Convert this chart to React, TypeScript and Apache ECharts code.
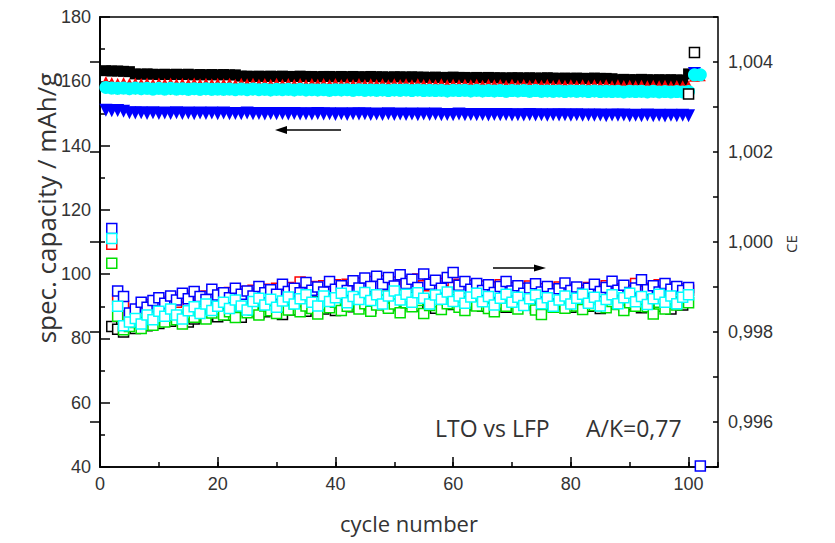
import React, { useEffect, useRef } from 'react';
import * as echarts from 'echarts';

// ---- Capacity (left axis, mAh/g), cycles 1..102 ----
const capBlack = [
  163.3, 163.2, 163.2, 163.1, 163.0, 162.3, 162.2, 162.3, 162.2, 162.1,
  162.2, 162.1, 162.2, 162.1, 162.2, 162.0, 162.1, 162.0, 162.1, 162.0,
  162.1, 162.0, 162.0, 161.6, 161.6, 161.5, 161.6, 161.5, 161.6, 161.5,
  161.6, 161.5, 161.5, 161.6, 161.5, 161.5, 161.4, 161.5, 161.5, 161.4,
  161.5, 161.4, 161.5, 161.4, 161.4, 161.5, 161.4, 161.4, 161.3, 161.4,
  161.4, 161.3, 161.4, 161.3, 161.3, 161.2, 161.3, 161.2, 161.2, 161.3,
  161.2, 161.2, 161.1, 161.2, 161.1, 161.2, 161.1, 161.1, 161.0, 161.1,
  161.1, 161.0, 161.1, 161.0, 161.0, 161.1, 161.0, 160.9, 161.0, 160.9,
  161.0, 160.9, 160.9, 161.0, 160.9, 160.9, 160.8, 160.5, 160.6, 160.5,
  160.5, 160.6, 160.5, 160.4, 160.5, 160.4, 160.5, 160.4, 160.4, 162.3,
];
const capRed = [
  159.9, 159.6, 159.4, 159.6, 159.3, 159.5, 159.3, 159.5, 159.2, 159.5,
  159.3, 159.5, 159.2, 159.4, 159.2, 159.5, 159.2, 159.4, 159.2, 159.4,
  159.2, 159.4, 159.1, 159.4, 159.2, 159.4, 159.1, 159.3, 159.1, 159.4,
  159.1, 159.3, 159.1, 159.3, 159.0, 159.3, 159.1, 159.3, 159.0, 159.3,
  159.0, 159.2, 159.0, 159.3, 159.0, 159.2, 159.0, 159.2, 158.9, 159.2,
  159.0, 159.2, 158.9, 159.2, 159.0, 159.1, 158.9, 159.2, 158.9, 159.1,
  158.9, 159.1, 158.9, 159.1, 158.8, 159.1, 158.9, 159.0, 158.8, 159.1,
  158.8, 159.0, 158.8, 159.0, 158.8, 159.0, 158.7, 159.0, 158.8, 158.9,
  158.7, 158.9, 158.7, 158.9, 158.7, 158.9, 158.6, 158.9, 158.7, 158.8,
  158.6, 158.8, 158.6, 158.8, 158.6, 158.8, 158.5, 158.7, 158.6, 158.5,
  161.6, 161.7,
];
const capGreen = [
  157.8, 157.6, 157.5, 157.6, 157.4, 157.5, 157.4, 157.5, 157.3, 157.5,
  157.3, 157.4, 157.3, 157.4, 157.2, 157.4, 157.2, 157.3, 157.2, 157.3,
  157.2, 157.3, 157.1, 157.3, 157.1, 157.2, 157.1, 157.2, 157.0, 157.2,
  157.1, 157.2, 157.0, 157.2, 157.0, 157.1, 157.0, 157.1, 156.9, 157.1,
  157.0, 157.1, 156.9, 157.1, 156.9, 157.0, 156.9, 157.0, 156.8, 157.0,
  156.9, 157.0, 156.8, 157.0, 156.8, 156.9, 156.8, 156.9, 156.7, 156.9,
  156.8, 156.9, 156.7, 156.9, 156.7, 156.8, 156.7, 156.8, 156.6, 156.8,
  156.7, 156.8, 156.6, 156.8, 156.6, 156.7, 156.6, 156.7, 156.5, 156.7,
  156.6, 156.7, 156.5, 156.7, 156.5, 156.6, 156.5, 156.6, 156.4, 156.6,
  156.5, 156.6, 156.4, 156.6, 156.4, 156.5, 156.4, 156.5, 156.4, 156.5,
  162.1, 162.2,
];
const capCyan = [
  158.1, 157.9, 157.8, 157.9, 157.7, 157.9, 157.7, 157.8, 157.6, 157.8,
  157.6, 157.8, 157.6, 157.7, 157.5, 157.7, 157.5, 157.7, 157.5, 157.6,
  157.5, 157.6, 157.4, 157.6, 157.4, 157.6, 157.4, 157.5, 157.3, 157.5,
  157.4, 157.5, 157.3, 157.5, 157.3, 157.4, 157.3, 157.4, 157.2, 157.4,
  157.3, 157.4, 157.2, 157.4, 157.2, 157.3, 157.2, 157.3, 157.1, 157.3,
  157.2, 157.3, 157.1, 157.3, 157.1, 157.2, 157.1, 157.2, 157.0, 157.2,
  157.1, 157.2, 157.0, 157.2, 157.0, 157.1, 157.0, 157.1, 156.9, 157.1,
  157.0, 157.1, 156.9, 157.1, 156.9, 157.0, 156.9, 157.0, 156.8, 157.0,
  156.9, 157.0, 156.8, 157.0, 156.8, 156.9, 156.8, 156.9, 156.7, 156.9,
  156.8, 156.9, 156.7, 156.9, 156.7, 156.8, 156.7, 156.8, 156.7, 156.8,
  162.0, 162.0,
];
const capBlue = [
  151.0, 150.8, 150.9, 150.7, 150.2, 150.1, 150.2, 150.0, 150.2, 150.0,
  150.1, 150.0, 150.2, 150.0, 150.1, 149.9, 150.1, 150.0, 150.1, 149.9,
  150.1, 149.9, 150.0, 149.9, 150.1, 149.9, 150.0, 149.8, 150.0, 149.9,
  150.0, 149.8, 150.0, 149.8, 149.9, 149.8, 150.0, 149.8, 149.9, 149.7,
  149.9, 149.7, 149.9, 149.8, 149.9, 149.7, 149.8, 149.7, 149.9, 149.7,
  149.8, 149.7, 149.8, 149.6, 149.8, 149.7, 149.8, 149.6, 149.7, 149.6,
  149.8, 149.6, 149.7, 149.6, 149.7, 149.5, 149.7, 149.6, 149.7, 149.5,
  149.6, 149.5, 149.7, 149.5, 149.6, 149.4, 149.6, 149.5, 149.6, 149.4,
  149.6, 149.4, 149.5, 149.4, 149.5, 149.3, 149.5, 149.4, 149.5, 149.3,
  149.4, 149.3, 149.5, 149.3, 149.4, 149.2, 149.4, 149.3, 149.4, 149.3,
  162.4,
];

// ---- Coulombic efficiency (right axis), cycles 2..102 ----
const ceBlack = [
  0.99812, 0.99806, 0.99800, 0.99816, 0.99808, 0.99821, 0.99814, 0.99826, 0.99819, 0.99830,
  0.99824, 0.99833, 0.99827, 0.99822, 0.99829, 0.99836, 0.99831, 0.99839, 0.99834, 0.99842,
  0.99837, 0.99852, 0.99833, 0.99848, 0.99858, 0.99841, 0.99845, 0.99860, 0.99847, 0.99839,
  0.99855, 0.99849, 0.99862, 0.99846, 0.99853, 0.99867, 0.99851, 0.99858, 0.99848, 0.99863,
  0.99871, 0.99856, 0.99860, 0.99875, 0.99852, 0.99867, 0.99862, 0.99857, 0.99872, 0.99859,
  0.99864, 0.99877, 0.99858, 0.99871, 0.99866, 0.99853, 0.99869, 0.99875, 0.99861, 0.99868,
  0.99859, 0.99873, 0.99864, 0.99857, 0.99878, 0.99862, 0.99870, 0.99855, 0.99866, 0.99874,
  0.99860, 0.99868, 0.99853, 0.99871, 0.99864, 0.99858, 0.99876, 0.99861, 0.99855, 0.99869,
  0.99872, 0.99857, 0.99866, 0.99852, 0.99870, 0.99863, 0.99875, 0.99856, 0.99861, 0.99868,
  0.99854, 0.99873, 0.99862, 0.99857, 0.99869, 0.99851, 0.99866, 0.99860, 1.00329, 1.00421,
];
const ceGreen = [
  0.99953, 0.99835, 0.99805, 0.99812, 0.99821, 0.99808, 0.99826, 0.99815, 0.99831, 0.99822,
  0.99836, 0.99827, 0.99818, 0.99840, 0.99833, 0.99846, 0.99829, 0.99842, 0.99851, 0.99838,
  0.99845, 0.99832, 0.99856, 0.99843, 0.99849, 0.99838, 0.99858, 0.99847, 0.99841, 0.99855,
  0.99849, 0.99862, 0.99845, 0.99858, 0.99852, 0.99840, 0.99861, 0.99854, 0.99866, 0.99848,
  0.99857, 0.99869, 0.99851, 0.99863, 0.99846, 0.99860, 0.99871, 0.99853, 0.99862, 0.99843,
  0.99865, 0.99856, 0.99870, 0.99841, 0.99859, 0.99867, 0.99850, 0.99863, 0.99872, 0.99855,
  0.99848, 0.99866, 0.99858, 0.99870, 0.99852, 0.99845, 0.99864, 0.99857, 0.99869, 0.99851,
  0.99860, 0.99868, 0.99849, 0.99839, 0.99862, 0.99855, 0.99871, 0.99853, 0.99866, 0.99858,
  0.99850, 0.99867, 0.99859, 0.99872, 0.99854, 0.99868, 0.99861, 0.99848, 0.99865, 0.99857,
  0.99873, 0.99856, 0.99840, 0.99866, 0.99851, 0.99874, 0.99860, 0.99877, 0.99865,
];
const ceRed = [
  0.99995, 0.99873, 0.99858, 0.99836, 0.99845, 0.99852, 0.99861, 0.99857, 0.99868, 0.99862,
  0.99871, 0.99866, 0.99877, 0.99869, 0.99881, 0.99873, 0.99880, 0.99876, 0.99885, 0.99879,
  0.99888, 0.99881, 0.99890, 0.99884, 0.99893, 0.99886, 0.99895, 0.99888, 0.99897, 0.99890,
  0.99899, 0.99891, 0.99911, 0.99893, 0.99901, 0.99895, 0.99903, 0.99896, 0.99905, 0.99897,
  0.99906, 0.99899, 0.99909, 0.99900, 0.99912, 0.99902, 0.99914, 0.99903, 0.99911, 0.99905,
  0.99913, 0.99904, 0.99918, 0.99903, 0.99910, 0.99901, 0.99908, 0.99914, 0.99900, 0.99906,
  0.99898, 0.99904, 0.99896, 0.99902, 0.99894, 0.99900, 0.99905, 0.99893, 0.99899, 0.99891,
  0.99897, 0.99902, 0.99890, 0.99896, 0.99888, 0.99894, 0.99900, 0.99889, 0.99895, 0.99887,
  0.99893, 0.99899, 0.99888, 0.99894, 0.99903, 0.99890, 0.99896, 0.99887, 0.99893, 0.99908,
  0.99891, 0.99897, 0.99886, 0.99905, 0.99892, 0.99898, 0.99890, 0.99896, 0.99893,
];
const ceBlue = [
  1.00030, 0.99891, 0.99879, 0.99842, 0.99851, 0.99866, 0.99855, 0.99870, 0.99876, 0.99864,
  0.99880, 0.99871, 0.99886, 0.99874, 0.99890, 0.99879, 0.99872, 0.99895, 0.99882, 0.99887,
  0.99876, 0.99897, 0.99884, 0.99891, 0.99880, 0.99901, 0.99887, 0.99894, 0.99884, 0.99906,
  0.99890, 0.99897, 0.99887, 0.99910, 0.99893, 0.99900, 0.99889, 0.99912, 0.99895, 0.99903,
  0.99892, 0.99914, 0.99898, 0.99920, 0.99901, 0.99924, 0.99906, 0.99921, 0.99902, 0.99927,
  0.99908, 0.99917, 0.99899, 0.99929, 0.99906, 0.99915, 0.99897, 0.99921, 0.99932, 0.99904,
  0.99912, 0.99895, 0.99908, 0.99892, 0.99905, 0.99888, 0.99901, 0.99912, 0.99891, 0.99903,
  0.99886, 0.99898, 0.99907, 0.99889, 0.99901, 0.99885, 0.99896, 0.99909, 0.99892, 0.99900,
  0.99886, 0.99897, 0.99906, 0.99890, 0.99899, 0.99913, 0.99893, 0.99904, 0.99888, 0.99898,
  0.99916, 0.99894, 0.99903, 0.99889, 0.99908, 0.99895, 0.99901, 0.99892, 0.99899, null,
  0.99502,
];
const ceCyan = [
  1.00008, 0.99857, 0.99814, 0.99822, 0.99830, 0.99818, 0.99838, 0.99827, 0.99846, 0.99835,
  0.99851, 0.99838, 0.99829, 0.99847, 0.99856, 0.99841, 0.99862, 0.99848, 0.99857, 0.99866,
  0.99852, 0.99871, 0.99858, 0.99849, 0.99868, 0.99875, 0.99860, 0.99873, 0.99855, 0.99869,
  0.99878, 0.99862, 0.99874, 0.99883, 0.99866, 0.99858, 0.99880, 0.99868, 0.99876, 0.99886,
  0.99865, 0.99879, 0.99872, 0.99888, 0.99870, 0.99883, 0.99862, 0.99880, 0.99891, 0.99871,
  0.99884, 0.99866, 0.99887, 0.99875, 0.99862, 0.99882, 0.99873, 0.99889, 0.99868, 0.99880,
  0.99864, 0.99878, 0.99886, 0.99867, 0.99879, 0.99860, 0.99875, 0.99884, 0.99866, 0.99877,
  0.99859, 0.99874, 0.99882, 0.99863, 0.99876, 0.99857, 0.99871, 0.99880, 0.99862, 0.99875,
  0.99884, 0.99864, 0.99877, 0.99858, 0.99872, 0.99883, 0.99863, 0.99876, 0.99886, 0.99867,
  0.99879, 0.99861, 0.99874, 0.99884, 0.99866, 0.99880, 0.99863, 0.99877, 0.99883,
];

const xTicks = [0, 20, 40, 60, 80, 100];

function pairs(firstCycle: number, arr: (number | null)[]) {
  const out: [number, number][] = [];
  arr.forEach((v, i) => {
    if (v != null) out.push([firstCycle + i, v]);
  });
  return out;
}

const C = {
  black: '#000000',
  red: '#ff0000',
  green: '#00e000',
  cyan: '#00ffff',
  blue: '#0000ff',
};

const tickFont = { color: '#333', fontSize: 18, fontFamily: 'Liberation Sans, Arial, sans-serif' };
const titleFont = 'Open Sans, sans-serif';
const axisLineStyle = { color: '#000', width: 1.5 };

function capSeries(name: string, data: number[], color: string, symbol: string, size: number, rotate = 0) {
  return {
    type: 'scatter',
    name,
    xAxisIndex: 0,
    yAxisIndex: 0,
    data: pairs(1, data),
    symbol,
    symbolSize: size,
    symbolRotate: rotate,
    itemStyle: { color, opacity: 1 },
    z: 2,
  };
}

function ceSeries(name: string, data: (number | null)[], color: string) {
  return {
    type: 'scatter',
    name,
    xAxisIndex: 0,
    yAxisIndex: 1,
    data: pairs(2, data),
    symbol: 'rect',
    symbolSize: 10,
    itemStyle: { color: '#ffffff', borderColor: color, borderWidth: 1.5, opacity: 1 },
    z: 3,
  };
}

export default function App() {
  const ref = useRef<HTMLDivElement>(null);
  useEffect(() => {
    if (!ref.current) return;
    const chart = echarts.init(ref.current, null, { renderer: 'svg' });
    const option: any = {
      animation: false,
      backgroundColor: '#ffffff',
      grid: {
        left: 100,
        right: 117,
        top: 17,
        bottom: 76,
        show: true,
        borderColor: '#000',
        borderWidth: 1.5,
        backgroundColor: 'transparent',
      },
      xAxis: [
        {
          type: 'value',
          min: 0,
          max: 105,
          interval: 20,
          axisLine: { lineStyle: axisLineStyle },
          axisTick: { inside: true, length: 10, lineStyle: axisLineStyle },
          axisLabel: {
            ...tickFont,
            margin: 8,
            showMaxLabel: false,
            formatter: (v: number) => (xTicks.includes(v) ? String(v) : ''),
          },
          splitLine: { show: false },
        },
        {
          type: 'value',
          min: 0,
          max: 105,
          interval: 10,
          position: 'bottom',
          axisLine: { show: false },
          axisTick: { inside: true, length: 5, lineStyle: axisLineStyle },
          axisLabel: { show: false },
          splitLine: { show: false },
        },
      ],
      yAxis: [
        {
          type: 'value',
          min: 40,
          max: 180,
          interval: 20,
          position: 'left',
          axisLine: { show: true, lineStyle: axisLineStyle },
          axisTick: { show: true, inside: true, length: 10, lineStyle: axisLineStyle },
          minorTick: { show: true, splitNumber: 2, length: 5, lineStyle: axisLineStyle },
          axisLabel: { ...tickFont, margin: 9 },
          splitLine: { show: false },
        },
        {
          type: 'value',
          min: 0.995,
          max: 1.005,
          splitNumber: 5,
          position: 'right',
          axisLine: { show: true, lineStyle: axisLineStyle },
          axisTick: { show: true, inside: true, length: 10, lineStyle: axisLineStyle },
          axisLabel: {
            ...tickFont,
            margin: 10,
            showMinLabel: false,
            showMaxLabel: false,
            formatter: (v: number) => v.toFixed(3).replace('.', ','),
          },
          splitLine: { show: false },
        },
        {
          type: 'value',
          min: 0.995,
          max: 1.005,
          interval: 0.001,
          position: 'right',
          axisLine: { show: false },
          axisTick: { show: true, inside: true, length: 5, lineStyle: axisLineStyle },
          axisLabel: { show: false },
          splitLine: { show: false },
        },
      ],
      series: [
        capSeries('Kapazität schwarz', capBlack, C.black, 'rect', 11),
        capSeries('Kapazität blau', capBlue, C.blue, 'triangle', 13, 180),
        capSeries('Kapazität rot', capRed, C.red, 'triangle', 11),
        capSeries('Kapazität grün', capGreen, C.green, 'diamond', 11),
        capSeries('Kapazität cyan', capCyan, C.cyan, 'circle', 13),
        ceSeries('CE schwarz', ceBlack, C.black),
        ceSeries('CE grün', ceGreen, C.green),
        ceSeries('CE rot', ceRed, C.red),
        ceSeries('CE blau', ceBlue, C.blue),
        ceSeries('CE cyan', ceCyan, C.cyan),
      ],
      graphic: [
        {
          type: 'text',
          x: 46,
          y: 208,
          rotation: Math.PI / 2,
          style: {
            text: 'spec. capacity / mAh/g',
            fill: '#333',
            fontSize: 26,
            fontFamily: titleFont,
            align: 'center',
            verticalAlign: 'middle',
          },
        },
        {
          type: 'text',
          x: 409,
          y: 523,
          style: {
            text: 'cycle number',
            fill: '#333',
            fontSize: 22,
            fontFamily: titleFont,
            align: 'center',
            verticalAlign: 'middle',
          },
        },
        {
          type: 'text',
          x: 791,
          y: 244,
          rotation: Math.PI / 2,
          style: {
            text: 'CE',
            fill: '#333',
            fontSize: 15,
            fontFamily: titleFont,
            align: 'center',
            verticalAlign: 'middle',
          },
        },
        {
          type: 'text',
          x: 435,
          y: 428,
          style: {
            text: 'LTO vs LFP',
            fill: '#333',
            fontSize: 23,
            fontFamily: titleFont,
            align: 'left',
            verticalAlign: 'middle',
          },
        },
        {
          type: 'text',
          x: 586,
          y: 428,
          style: {
            text: 'A/K=0,77',
            fill: '#333',
            fontSize: 23,
            fontFamily: titleFont,
            align: 'left',
            verticalAlign: 'middle',
          },
        },
        {
          type: 'line',
          shape: { x1: 285, y1: 130, x2: 341, y2: 130 },
          style: { stroke: '#000', lineWidth: 1.5 },
        },
        {
          type: 'polygon',
          shape: { points: [[275, 130], [287, 126], [287, 134]] },
          style: { fill: '#000' },
        },
        {
          type: 'line',
          shape: { x1: 493, y1: 268, x2: 536, y2: 268 },
          style: { stroke: '#000', lineWidth: 1.5 },
        },
        {
          type: 'polygon',
          shape: { points: [[546, 268], [534, 264.5], [534, 271.5]] },
          style: { fill: '#000' },
        },
      ],
    };
    chart.setOption(option);
    return () => chart.dispose();
  }, []);
  return (
    <div
      ref={ref}
      style={{ position: 'fixed', left: 0, top: 0, width: 835, height: 543, background: '#fff' }}
    />
  );
}
